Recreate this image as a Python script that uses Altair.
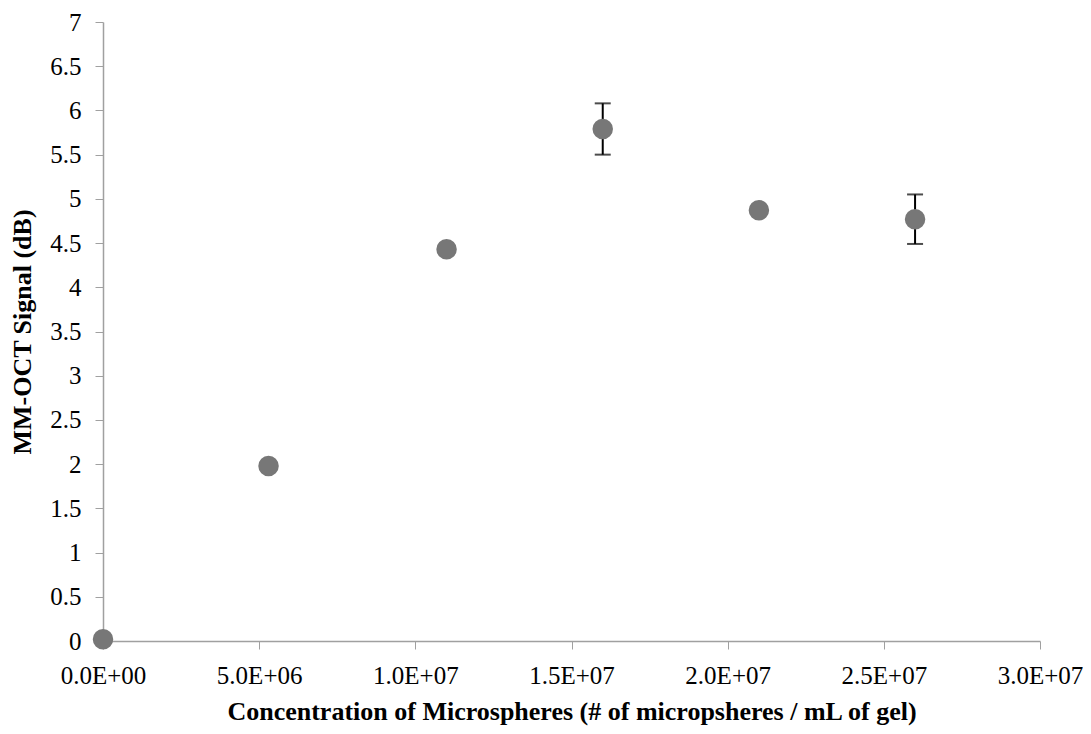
import altair as alt
import pandas as pd

conc = [0.0, 5.3e6, 1.1e7, 1.6e7, 2.1e7, 2.6e7]
signal = [0.02, 1.98, 4.43, 5.79, 4.87, 4.77]
err = [0.0, 0.0, 0.0, 0.29, 0.0, 0.28]

df = pd.DataFrame({"x": conc, "y": signal, "e": err})
df["lo"] = df["y"] - df["e"]
df["hi"] = df["y"] + df["e"]
edf = df[df["e"] > 0]

FONT = "Liberation Serif"
AX = "#a0a0a0"

xlabel = ("datum.value == 0 ? '0.0E+00' : "
          "format(datum.value / pow(10, floor(log(datum.value)/LN10 + 1e-9)), '.1f') + 'E+' + "
          "format(floor(log(datum.value)/LN10 + 1e-9), '02d')")

xenc = alt.X("x:Q", scale=alt.Scale(domain=[0, 3e7], nice=False, zero=True),
             axis=alt.Axis(title="Concentration of Microspheres (# of micropsheres / mL of gel)",
                           values=[0, 5e6, 1e7, 1.5e7, 2e7, 2.5e7, 3e7], labelExpr=xlabel,
                           grid=False, domainColor=AX, tickColor=AX, tickSize=8, domainWidth=1.5,
                           labelFont=FONT, labelFontSize=25, labelColor="black",
                           labelPadding=14, titleFont=FONT, titleFontSize=26,
                           titleFontWeight="bold", titleColor="black", titlePadding=10,
                           labelFlush=False, labelOverlap=False))
yenc = alt.Y("y:Q", scale=alt.Scale(domain=[0, 7], nice=False),
             axis=alt.Axis(title="MM-OCT Signal (dB)", values=[i * 0.5 for i in range(15)],
                           format="~g", grid=False, domainColor=AX, tickColor=AX, tickSize=8,
                           domainWidth=1.5, labelOverlap=False,
                           labelFont=FONT, labelFontSize=25, labelColor="black",
                           labelPadding=14, titleFont=FONT, titleFontSize=26,
                           titleFontWeight="bold", titleColor="black", titlePadding=14))

base = alt.Chart(df)
pts = base.mark_point(filled=True, color="#777777", size=420, opacity=1).encode(x=xenc, y=yenc)
rules = alt.Chart(edf).mark_rule(color="black", strokeWidth=2).encode(x="x:Q", y="lo:Q", y2="hi:Q")
cap_hi = alt.Chart(edf).mark_tick(color="black", orient="horizontal", size=16, thickness=2).encode(x="x:Q", y="hi:Q")
cap_lo = alt.Chart(edf).mark_tick(color="black", orient="horizontal", size=16, thickness=2).encode(x="x:Q", y="lo:Q")

chart = alt.layer(rules, cap_hi, cap_lo, pts).properties(
    width=937, height=619,
    autosize=alt.AutoSizeParams(type="none"),
    padding={"left": 95, "top": 14, "right": 43, "bottom": 85},
).configure_view(stroke=None)

chart.save("out.html", embed_options={"renderer": "svg", "actions": False})
